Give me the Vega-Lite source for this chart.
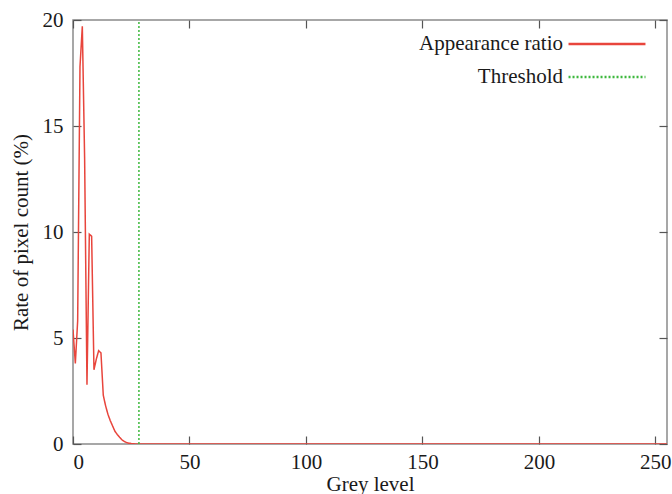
{
  "$schema": "https://vega.github.io/schema/vega-lite/v6.json",
  "autosize": "none",
  "width": 594,
  "height": 424,
  "padding": {"left": 73, "top": 20, "right": 5, "bottom": 50},
  "background": "white",
  "config": {
    "view": {"stroke": "#8a8a8a", "strokeWidth": 1.5},
    "font": "Liberation Serif",
    "axis": {
      "labelFont": "Liberation Serif",
      "labelFontSize": 21,
      "labelColor": "#1a1a1a",
      "titleFont": "Liberation Serif",
      "titleFontSize": 21,
      "titleFontWeight": "normal",
      "titleColor": "#1a1a1a",
      "domain": false,
      "grid": false,
      "tickColor": "#555555",
      "tickWidth": 1.2
    }
  },
  "data": {
    "values": [
      {"grey": 0, "rate": 5.4, "series": "Appearance ratio"},
      {"grey": 1, "rate": 3.8, "series": "Appearance ratio"},
      {"grey": 2, "rate": 5.8, "series": "Appearance ratio"},
      {"grey": 3, "rate": 17.8, "series": "Appearance ratio"},
      {"grey": 4, "rate": 19.7, "series": "Appearance ratio"},
      {"grey": 5, "rate": 13.4, "series": "Appearance ratio"},
      {"grey": 6, "rate": 2.8, "series": "Appearance ratio"},
      {"grey": 7, "rate": 9.9, "series": "Appearance ratio"},
      {"grey": 8, "rate": 9.8, "series": "Appearance ratio"},
      {"grey": 9, "rate": 3.5, "series": "Appearance ratio"},
      {"grey": 10, "rate": 4.0, "series": "Appearance ratio"},
      {"grey": 11, "rate": 4.4, "series": "Appearance ratio"},
      {"grey": 12, "rate": 4.3, "series": "Appearance ratio"},
      {"grey": 13, "rate": 2.3, "series": "Appearance ratio"},
      {"grey": 14, "rate": 1.8, "series": "Appearance ratio"},
      {"grey": 15, "rate": 1.4, "series": "Appearance ratio"},
      {"grey": 16, "rate": 1.1, "series": "Appearance ratio"},
      {"grey": 17, "rate": 0.85, "series": "Appearance ratio"},
      {"grey": 18, "rate": 0.6, "series": "Appearance ratio"},
      {"grey": 19, "rate": 0.45, "series": "Appearance ratio"},
      {"grey": 20, "rate": 0.32, "series": "Appearance ratio"},
      {"grey": 21, "rate": 0.2, "series": "Appearance ratio"},
      {"grey": 22, "rate": 0.12, "series": "Appearance ratio"},
      {"grey": 23, "rate": 0.07, "series": "Appearance ratio"},
      {"grey": 24, "rate": 0.04, "series": "Appearance ratio"},
      {"grey": 25, "rate": 0.02, "series": "Appearance ratio"},
      {"grey": 26, "rate": 0.01, "series": "Appearance ratio"},
      {"grey": 27, "rate": 0.0, "series": "Appearance ratio"},
      {"grey": 28, "rate": 0.0, "series": "Appearance ratio"},
      {"grey": 50, "rate": 0.0, "series": "Appearance ratio"},
      {"grey": 100, "rate": 0.0, "series": "Appearance ratio"},
      {"grey": 150, "rate": 0.0, "series": "Appearance ratio"},
      {"grey": 200, "rate": 0.0, "series": "Appearance ratio"},
      {"grey": 255, "rate": 0.0, "series": "Appearance ratio"},
      {"grey": 28.3, "rate": 0, "series": "Threshold"},
      {"grey": 28.3, "rate": 20, "series": "Threshold"}
    ]
  },
  "resolve": {"axis": {"x": "independent", "y": "independent"}},
  "layer": [
    {
      "mark": {"type": "line", "strokeWidth": 1.5, "clip": true},
      "encoding": {
        "x": {
          "field": "grey", "type": "quantitative",
          "scale": {"domain": [0, 255], "nice": false, "zero": true},
          "axis": {"orient": "bottom", "values": [0, 50, 100, 150, 200, 250], "tickSize": -8, "labelPadding": 15, "title": "Grey level", "titlePadding": 1}
        },
        "y": {
          "field": "rate", "type": "quantitative",
          "scale": {"domain": [0, 20], "nice": false},
          "axis": {"orient": "left", "values": [0, 5, 10, 15, 20], "tickSize": -8, "labelPadding": 18, "title": "Rate of pixel count (%)", "titlePadding": 11}
        },
        "color": {
          "field": "series", "type": "nominal",
          "scale": {"domain": ["Appearance ratio", "Threshold"], "range": ["#e8453c", "#3db83d"]},
          "legend": {
            "title": null,
            "orient": "none",
            "legendX": 523,
            "legendY": 13,
            "padding": 0,
            "symbolType": "M-4,0H4",
            "symbolSize": 370,
            "symbolStrokeWidth": 2.5,
            "symbolFillColor": "transparent",
            "labelFont": "Liberation Serif",
            "labelFontSize": 21,
            "labelColor": "#1a1a1a",
            "labelAlign": "right",
            "labelOffset": -55,
            "rowPadding": 12,
            "labelLimit": 300
          }
        },
        "strokeDash": {
          "field": "series", "type": "nominal",
          "scale": {"domain": ["Appearance ratio", "Threshold"], "range": [[1, 0], [2, 2]]},
          "legend": null
        },
        "detail": {"field": "series"}
      }
    },
    {
      "mark": {"type": "line", "opacity": 0},
      "encoding": {
        "x": {
          "field": "grey", "type": "quantitative",
          "axis": {"orient": "top", "values": [0, 50, 100, 150, 200, 250], "tickSize": -8, "labels": false, "title": null}
        },
        "y": {
          "field": "rate", "type": "quantitative",
          "axis": {"orient": "right", "values": [0, 5, 10, 15, 20], "tickSize": -8, "labels": false, "title": null}
        }
      }
    }
  ]
}
